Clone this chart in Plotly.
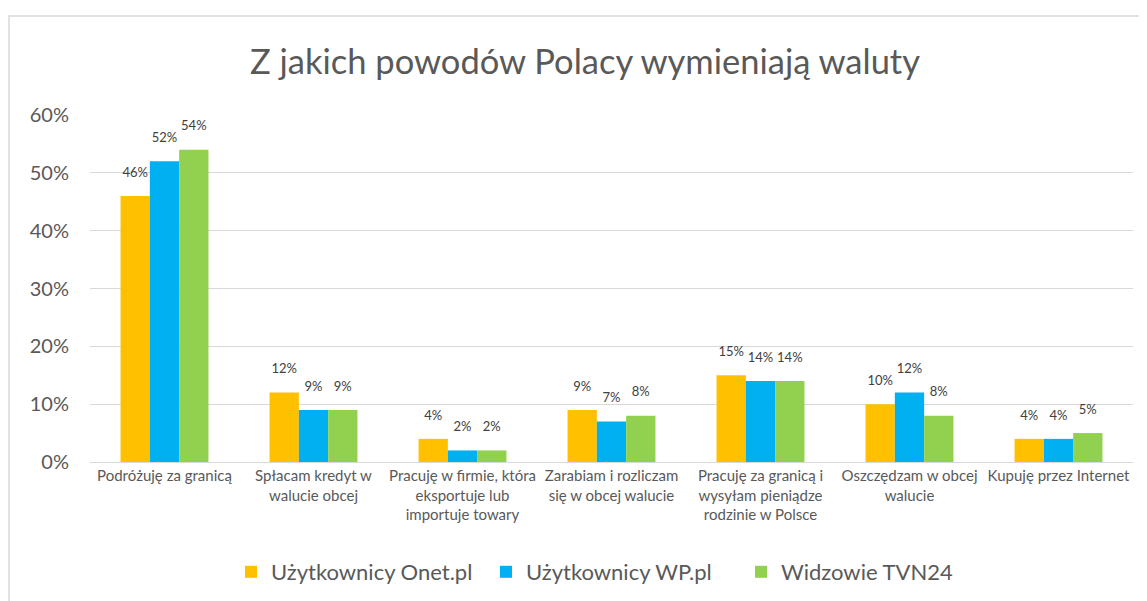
import plotly.graph_objects as go

categories = [
    "Podróżuję za granicą",
    "Spłacam kredyt w<br>walucie obcej",
    "Pracuję w firmie, która<br>eksportuje lub<br>importuje towary",
    "Zarabiam i rozliczam<br>się w obcej walucie",
    "Pracuję za granicą i<br>wysyłam pieniądze<br>rodzinie w Polsce",
    "Oszczędzam w obcej<br>walucie",
    "Kupuję przez Internet",
]
onet = [0.46, 0.12, 0.04, 0.09, 0.15, 0.10, 0.04]
wp = [0.52, 0.09, 0.02, 0.07, 0.14, 0.12, 0.04]
tvn = [0.54, 0.09, 0.02, 0.08, 0.14, 0.08, 0.05]
series_names = ["Użytkownicy Onet.pl", "Użytkownicy WP.pl", "Widzowie TVN24"]
colors = ["#FFC000", "#00B0F0", "#92D050"]
y_ticks = [0, 0.1, 0.2, 0.3, 0.4, 0.5, 0.6]

FONT = "Lato"
GAP = 0.41
# plot area in figure pixels (page has an 8px body margin)
L, R, T, B = 82, 1125, 107, 454
W, H = R - L, B - T

fig = go.Figure()
for name, vals, col in zip(series_names, [onet, wp, tvn], colors):
    fig.add_trace(go.Bar(
        x=categories, y=vals, name=name, marker=dict(color=col, line=dict(width=0)),
        hoverinfo="x+y+name",
    ))
for name, vals in zip(series_names, [onet, wp, tvn]):
    fig.add_trace(go.Scatter(
        x=categories, y=vals, mode="markers+text", showlegend=False,
        marker=dict(size=24, opacity=0), text=[f"{round(v * 100)}%" for v in vals],
        textposition="top center", cliponaxis=False, hoverinfo="skip",
        textfont=dict(family=FONT, size=13, color="#404040"),
    ))

fig.update_layout(
    width=1147, height=601,
    margin=dict(l=L, r=1147 - R, t=T, b=601 - B),
    paper_bgcolor="white", plot_bgcolor="white",
    barmode="group", bargap=GAP, bargroupgap=0,
    scattermode="group", scattergap=GAP,
    font=dict(family=FONT, color="#595959"),
    title=dict(text="Z jakich powodów Polacy wymieniają waluty", x=577 / 1147, xanchor="center",
               y=1 - 54 / 601, yanchor="middle", font=dict(family=FONT, size=34.5, color="#595959")),
    legend=dict(orientation="h", x=(223 - L) / W, xanchor="left", y=(B - 564) / H, yanchor="middle",
                entrywidth=210, entrywidthmode="pixels",
                font=dict(family=FONT, size=22, color="#595959"), traceorder="normal"),
    xaxis=dict(tickfont=dict(family=FONT, size=15, color="#595959"), showline=True,
               linecolor="#d9d9d9", linewidth=1, ticks=""),
    yaxis=dict(range=[0, 0.6], tickvals=y_ticks, tickformat=".0%", showgrid=True,
               gridcolor="#d9d9d9", gridwidth=1, zeroline=False,
               tickfont=dict(family=FONT, size=20, color="#595959"), ticklabelstandoff=20),
    shapes=[dict(type="rect", xref="paper", yref="paper",
                 x0=(1 - L) / W, x1=(1160 - L) / W,
                 y0=(B - 620) / H, y1=(B - 8) / H,
                 line=dict(color="#d9d9d9", width=1.5), fillcolor="rgba(0,0,0,0)", layer="below")],
)

fig.write_html("out.html")
